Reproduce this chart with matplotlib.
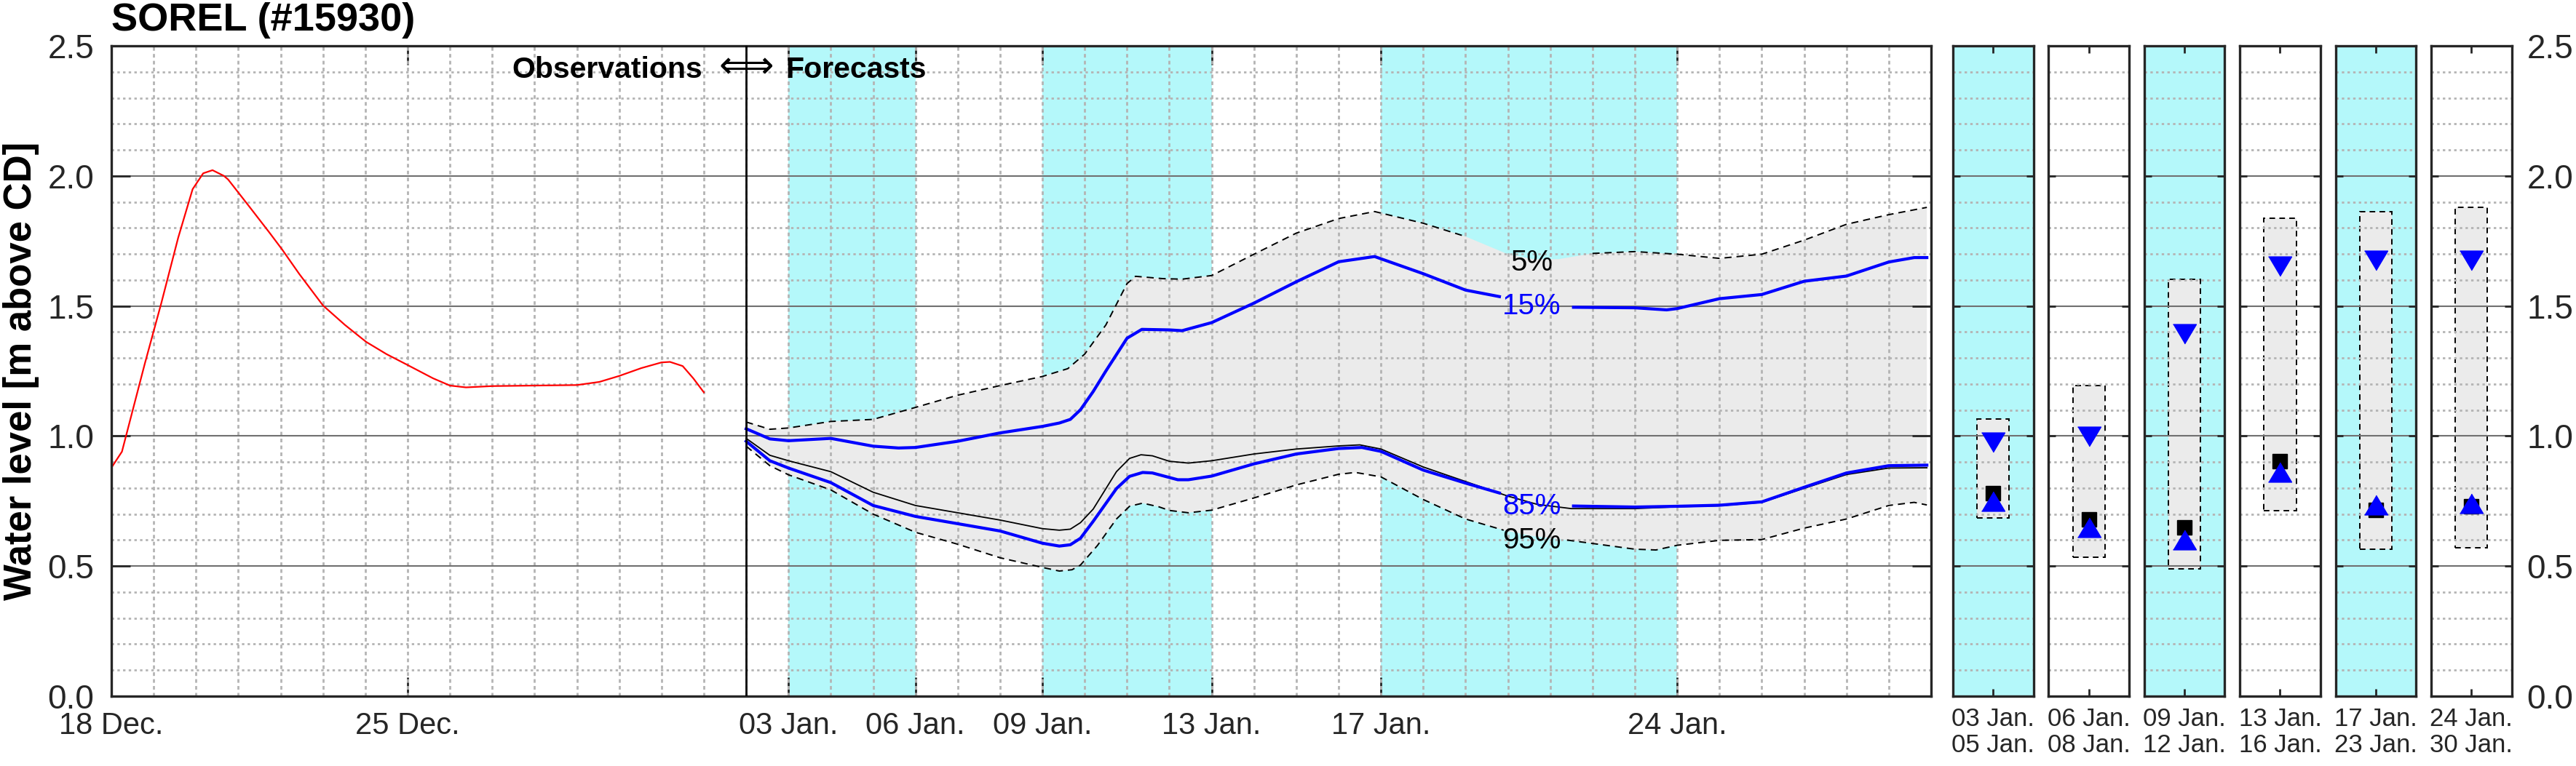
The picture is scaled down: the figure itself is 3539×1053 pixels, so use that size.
import numpy as np
import matplotlib
matplotlib.use("Agg")
import matplotlib.pyplot as plt
from matplotlib.ticker import MultipleLocator

plt.rcParams['font.family'] = ['Liberation Sans', 'DejaVu Sans']

# x axis = days since 18 Dec (00h)
tick_days = [0, 7, 16, 19, 22, 26, 30, 37]
tick_labels = ["18 Dec.", "25 Dec.", "03 Jan.", "06 Jan.", "09 Jan.", "13 Jan.", "17 Jan.", "24 Jan."]
now_day = 15
cyan_bands = [(16, 19), (22, 26), (30, 37)]

# observations (red)
obs_days = [0, 0.25, 0.79, 1.18, 1.58, 1.92, 2.17, 2.39, 2.66, 2.76, 3.25, 3.74, 4.04, 4.44, 5.0, 5.52,
            6.02, 6.5, 7.0, 7.6, 8.0, 8.38, 9.0, 10.0, 11.0, 11.53, 12.0, 12.52, 13.0, 13.2, 13.5, 13.75, 14.0]
obs_level = [0.878, 0.94, 1.278, 1.511, 1.763, 1.949, 2.01, 2.022, 2.0, 1.986, 1.884, 1.781, 1.716, 1.623, 1.502, 1.427,
             1.362, 1.315, 1.273, 1.222, 1.194, 1.187, 1.192, 1.194, 1.196, 1.208, 1.231, 1.261, 1.283, 1.285, 1.269, 1.222, 1.168]

# forecast percentiles
fc5_days = [15, 15.56, 16, 17, 18, 19, 20, 21, 22, 22.6, 23, 23.5, 24, 24.2, 24.85, 25.3, 26, 27, 28, 29, 29.85,
            31, 32, 33, 33.6, 34.2, 35, 36, 37, 38, 39, 40, 41, 42, 42.9]
fc5 = [1.054, 1.026, 1.031, 1.056, 1.064, 1.110, 1.157, 1.194, 1.229, 1.259, 1.315, 1.427, 1.586, 1.614, 1.605, 1.603,
       1.617, 1.699, 1.780, 1.836, 1.863, 1.818, 1.767, 1.699, 1.68, 1.68, 1.702, 1.709, 1.699, 1.683, 1.699, 1.753,
       1.814, 1.851, 1.879]

fc15_days = [15, 15.56, 16, 17, 18, 18.6, 19, 20, 21, 22, 22.4, 22.66, 22.9, 23.2, 23.5, 24, 24.35, 25, 25.3, 26,
             27, 28, 29, 29.85, 31, 32, 32.8, 33.6, 34.55, 36, 36.75, 37, 38, 39, 40, 41, 42, 42.6, 42.9]
fc15 = [1.028, 0.989, 0.982, 0.991, 0.961, 0.954, 0.956, 0.980, 1.012, 1.037, 1.050, 1.064, 1.101, 1.171, 1.250,
        1.376, 1.410, 1.408, 1.405, 1.436, 1.511, 1.593, 1.670, 1.690, 1.624, 1.561, 1.536, np.nan, 1.495, 1.493,
        1.485, 1.49, 1.528, 1.544, 1.595, 1.615, 1.669, 1.686, 1.686]

med_days = [15, 15.56, 16, 17, 18, 19, 20, 21, 22, 22.4, 22.66, 22.9, 23.2, 23.75, 24.06, 24.33, 24.6, 25, 25.45,
            26, 27, 28, 29, 29.5, 30, 31, 32, 33, 33.7, 34.5, 36, 37, 38, 39, 40, 41, 42, 42.9]
med = [0.991, 0.926, 0.905, 0.863, 0.784, 0.733, 0.705, 0.677, 0.644, 0.638, 0.642, 0.667, 0.719, 0.863, 0.914,
       0.928, 0.924, 0.903, 0.896, 0.905, 0.931, 0.950, 0.962, 0.966, 0.950, 0.881, 0.825, 0.769, 0.737, 0.721,
       0.721, 0.728, 0.732, 0.745, 0.799, 0.852, 0.877, 0.878]

fc85_days = [15, 15.56, 16, 17, 18, 19, 20, 21, 22, 22.4, 22.66, 22.9, 23.2, 23.75, 24.06, 24.37, 24.6, 25.2, 25.45,
             26, 27, 28, 29, 29.55, 30, 31, 32, 32.8, 33.6, 34.55, 36, 37, 38, 39, 40, 41, 42, 42.9]
fc85 = [0.980, 0.905, 0.877, 0.821, 0.733, 0.691, 0.663, 0.635, 0.588, 0.577, 0.582, 0.607, 0.672, 0.798, 0.845,
        0.860, 0.858, 0.832, 0.832, 0.846, 0.893, 0.931, 0.952, 0.956, 0.941, 0.869, 0.819, 0.781, np.nan, 0.731,
        0.727, 0.730, 0.734, 0.747, 0.803, 0.858, 0.886, 0.888]

fc95_days = [15, 15.56, 16, 17, 18, 19, 20, 21, 22, 22.4, 22.7, 22.9, 23.3, 23.75, 24.06, 24.37, 24.75, 25, 25.45,
             26, 27, 28, 29, 29.4, 30, 31, 32, 32.9, 33.6, 34.4, 35, 36, 36.5, 37, 38, 39, 40, 41, 42, 42.6, 42.9]
fc95 = [0.961, 0.886, 0.851, 0.793, 0.700, 0.630, 0.584, 0.532, 0.495, 0.481, 0.486, 0.504, 0.579, 0.681, 0.730,
        0.742, 0.728, 0.714, 0.705, 0.715, 0.762, 0.812, 0.853, 0.860, 0.843, 0.756, 0.681, 0.638, 0.615, 0.600,
        0.587, 0.565, 0.562, 0.58, 0.599, 0.602, 0.646, 0.681, 0.733, 0.745, 0.735]

pct_labels = ["5%", "15%", "85%", "95%"]
pct_label_y = [1.636, 1.468, 0.700, 0.569]
pct_label_day = 33.56
label_gap = (32.95, 34.3)

# window summaries (small panels)
win_labels = ["03 Jan.\n05 Jan.", "06 Jan.\n08 Jan.", "09 Jan.\n12 Jan.",
              "13 Jan.\n16 Jan.", "17 Jan.\n23 Jan.", "24 Jan.\n30 Jan."]
win_p5 = [1.065, 1.194, 1.602, 1.837, 1.862, 1.879]
win_p15 = [0.977, 0.998, 1.393, 1.653, 1.676, 1.674]
win_med = [0.781, 0.680, 0.648, 0.902, 0.716, 0.729]
win_p85 = [0.749, 0.649, 0.602, 0.860, 0.735, 0.740]
win_p95 = [0.686, 0.535, 0.490, 0.714, 0.565, 0.570]
win_cyan = [True, False, True, False, True, False]

CYAN = '#b4f8fa'
GRAYFILL = '#ebebeb'
AXC = '#262626'
W, H = 3539, 1053


def style_grid(a):
    a.yaxis.set_major_locator(MultipleLocator(0.5))
    a.yaxis.set_minor_locator(MultipleLocator(0.1))
    a.grid(which='major', axis='y', color='#707070', lw=1.5, ls='-')
    a.grid(which='minor', axis='y', color='#b4b4b4', lw=2, ls=(0, (1.2, 1.6)))
    a.set_axisbelow(True)
    for s in a.spines.values():
        s.set_color(AXC)
        s.set_linewidth(2.4)


fig = plt.figure(figsize=(W / 100, H / 100), dpi=100)
ax = fig.add_axes([153 / W, 96 / H, 2500 / W, 894 / H])

for a0, a1 in cyan_bands:
    ax.axvspan(a0, a1, color=CYAN, lw=0, zorder=0.1)
fc5_days = np.array(fc5_days); fc5 = np.array(fc5)
fc95_days = np.array(fc95_days); fc95 = np.array(fc95)
ax.fill(np.concatenate([fc5_days, fc95_days[::-1]]), np.concatenate([fc5, fc95[::-1]]),
        color=GRAYFILL, lw=0, zorder=0.2)

# dashed 5/95% with a gap under the labels
m5 = np.where((fc5_days > label_gap[0]) & (fc5_days < label_gap[1]), np.nan, fc5)
m95 = np.where((fc95_days > label_gap[0]) & (fc95_days < label_gap[1]), np.nan, fc95)
ax.plot(fc5_days, m5, color='k', lw=1.4, ls=(0, (5, 3.5)), zorder=2)
ax.plot(fc95_days, m95, color='k', lw=1.4, ls=(0, (5, 3.5)), zorder=2)
ax.plot(med_days, med, color='k', lw=1.3, zorder=2.2)
ax.plot(fc15_days, fc15, color='#0000ff', lw=3, zorder=2.4)
ax.plot(fc85_days, fc85, color='#0000ff', lw=3, zorder=2.4)
ax.plot(obs_days, obs_level, color='#ff0000', lw=1.6, zorder=2.4)
ax.axvline(now_day, color='k', lw=2, zorder=3)

for lab, yv, c in zip(pct_labels, pct_label_y, ['k', '#0000ff', '#0000ff', 'k']):
    ax.text(pct_label_day, yv, lab, color=c, fontsize=29, ha='center', va='baseline', zorder=4)

ax.text(13.96, 2.377, "Observations", fontsize=29.5, fontweight='bold', ha='right', va='baseline', zorder=4)
ax.text(now_day, 2.375, "\u27fa", fontsize=38, family=['DejaVu Sans'], ha='center', va='baseline', zorder=4)
ax.text(15.94, 2.377, "Forecasts", fontsize=29.5, fontweight='bold', ha='left', va='baseline', zorder=4)

ax.set_xlim(0, 43)
ax.set_ylim(0, 2.5)
style_grid(ax)
ax.set_xticks(tick_days)
ax.set_xticklabels(tick_labels)
ax.xaxis.set_minor_locator(MultipleLocator(1))
ax.xaxis.remove_overlapping_locs = False
ax.grid(which='minor', axis='x', color='#b4b4b4', lw=2, ls=(0, (1.8, 1.6)))
ax.set_yticks([0, 0.5, 1.0, 1.5, 2.0, 2.5])
ax.set_yticklabels(["0.0", "0.5", "1.0", "1.5", "2.0", "2.5"])
ax.tick_params(which='major', direction='in', length=19, width=2, color=AXC, top=True, right=True)
ax.tick_params(which='minor', length=0)
ax.tick_params(axis='x', labelsize=30, pad=15, labelcolor=AXC)
ax.tick_params(axis='y', labelsize=33, pad=17, labelcolor=AXC)
ax.set_ylabel("Water level [m above CD]", fontsize=38, fontweight='bold', labelpad=8)
ax.set_title("SOREL (#15930)", loc='left', fontsize=39, fontweight='bold', pad=15)

tri_dn = [(-1, 0.84), (1, 0.84), (0, -0.84)]
tri_up = [(-1, -0.84), (1, -0.84), (0, 0.84)]
for i in range(6):
    pa = fig.add_axes([(2683 + i * 131.4) / W, 96 / H, 110.5 / W, 894 / H])
    if win_cyan[i]:
        pa.set_facecolor(CYAN)
    pa.bar(0.5, win_p5[i] - win_p95[i], bottom=win_p95[i], width=0.4, color=GRAYFILL,
           edgecolor='k', lw=1.4, ls=(0, (4, 3)), zorder=0.3)
    pa.plot(0.5, win_med[i], marker='s', ms=15, color='k', zorder=3)
    pa.plot(0.5, win_p85[i], marker=tri_up, ms=23, color='#0000ff', zorder=4)
    pa.plot(0.5, win_p15[i], marker=tri_dn, ms=23, color='#0000ff', zorder=4)
    pa.set_xlim(0, 1)
    pa.set_ylim(0, 2.5)
    style_grid(pa)
    pa.set_xticks([0.5])
    pa.set_xticklabels([win_labels[i]], linespacing=1.12)
    pa.set_yticks([0, 0.5, 1.0, 1.5, 2.0, 2.5])
    pa.set_yticklabels(["0.0", "0.5", "1.0", "1.5", "2.0", "2.5"])
    pa.tick_params(which='major', direction='in', length=7, width=2, color=AXC, top=True, right=True,
                   labelleft=False, labelright=(i == 5), labelcolor=AXC)
    pa.tick_params(axis='x', pad=11, labelsize=25)
    pa.tick_params(axis='y', pad=15, labelsize=33)
    pa.tick_params(which='minor', length=0)

fig.savefig("out.png", dpi=100)
